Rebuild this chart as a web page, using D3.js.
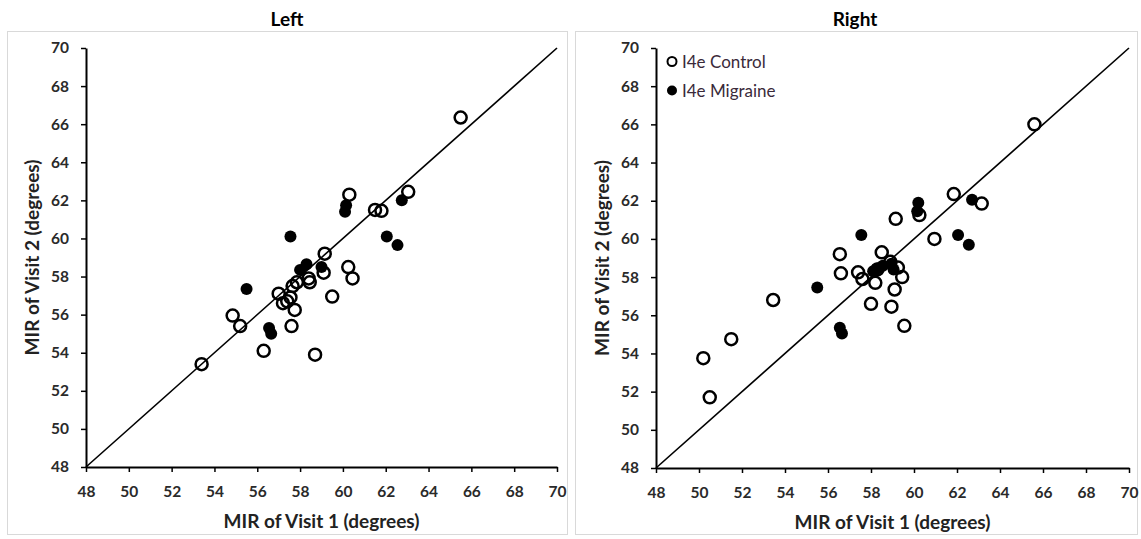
<!DOCTYPE html>
<html><head><meta charset="utf-8">
<script src="https://cdn.jsdelivr.net/npm/d3@7"></script>
<style>
body{margin:0;background:#fff;}
svg{display:block;font-family:Lato,"Open Sans",sans-serif;}
</style></head><body>
<svg id="c" width="1141" height="539"></svg>
<script>
const panelTitles = ["Left", "Right"];
const xTicks = [48,50,52,54,56,58,60,62,64,66,68,70];
const yTicks = [48,50,52,54,56,58,60,62,64,66,68,70];
const legendLabels = ["I4e Control", "I4e Migraine"];
const xLabel = "MIR of Visit 1 (degrees)";
const yLabel = "MIR of Visit 2 (degrees)";

// Left panel
const leftControlV1 = [65.5,63.05,60.3,61.5,61.8,59.15,59.1,60.25,60.45,59.5,58.7,56.3,54.85,55.2,53.4,57.6,57.0,57.2,57.4,57.55,57.75,57.65,57.85,58.45,58.4];
const leftControlV2 = [66.35,62.45,62.3,61.5,61.45,59.2,58.2,58.5,57.9,56.95,53.9,54.1,55.95,55.4,53.4,55.4,57.1,56.6,56.7,56.9,56.25,57.5,57.7,57.7,57.9];
const leftMigraineV1 = [62.75,60.15,60.1,57.55,62.05,62.55,59.0,58.3,58.0,55.5,56.55,56.65];
const leftMigraineV2 = [62.0,61.75,61.4,60.1,60.1,59.65,58.5,58.65,58.35,57.35,55.3,55.0];

// Right panel
const rightControlV1 = [65.6,61.85,63.15,60.25,59.15,60.95,56.55,58.5,56.6,57.4,57.6,58.2,58.0,58.95,59.1,59.45,59.25,59.55,50.2,50.5,51.5,53.45,58.9,58.3];
const rightControlV2 = [66.0,62.35,61.85,61.25,61.05,60.0,59.2,59.3,58.2,58.25,57.9,57.7,56.6,56.45,57.35,58.0,58.5,55.45,53.75,51.7,54.75,56.8,58.8,58.4];
const rightMigraineV1 = [62.7,60.2,60.15,57.55,62.05,62.55,55.5,56.55,56.65,58.1,58.3,58.55,58.95,59.05];
const rightMigraineV2 = [62.05,61.9,61.45,60.2,60.2,59.7,57.45,55.35,55.05,58.3,58.45,58.6,58.7,58.4];

const panels = [
  {title: panelTitles[0], frame:[7,31,560,503], x0:86, x1:557, y0:467, y1:48, tcx:287,
   c1:leftControlV1, c2:leftControlV2, m1:leftMigraineV1, m2:leftMigraineV2, legend:false},
  {title: panelTitles[1], frame:[575,31,562,503], x0:656, x1:1129, y0:468, y1:48, tcx:855,
   c1:rightControlV1, c2:rightControlV2, m1:rightMigraineV1, m2:rightMigraineV2, legend:true}
];

const svg = d3.select("#c");

panels.forEach(p => {
  const g = svg.append("g");
  g.append("rect").attr("x",p.frame[0]+0.5).attr("y",p.frame[1]+0.5)
    .attr("width",p.frame[2]).attr("height",p.frame[3])
    .attr("fill","none").attr("stroke","#d9d9d9").attr("stroke-width",1);
  g.append("text").attr("x",p.tcx).attr("y",26).attr("text-anchor","middle")
    .attr("font-size",19).attr("font-weight","bold").attr("fill","#000").text(p.title);

  const x = d3.scaleLinear().domain([48,70]).range([p.x0,p.x1]);
  const y = d3.scaleLinear().domain([48,70]).range([p.y0,p.y1]);

  const xa = g.append("g").attr("transform",`translate(0,${p.y0})`)
    .call(d3.axisBottom(x).tickValues(xTicks).tickSize(5).tickPadding(14).tickSizeOuter(0));
  const ya = g.append("g").attr("transform",`translate(${p.x0},0)`)
    .call(d3.axisLeft(y).tickValues(yTicks).tickSize(5).tickPadding(12).tickSizeOuter(0));
  [xa,ya].forEach(a=>{
    a.select(".domain").attr("stroke","#000").attr("stroke-width",2);
    a.selectAll(".tick line").attr("stroke","#000").attr("stroke-width",1.5);
    a.selectAll(".tick text").attr("font-size",15.5).attr("font-weight","bold")
      .attr("fill","#2a2a2a").attr("font-family","Lato,'Open Sans',sans-serif");
  });

  g.append("text").attr("x",(p.x0+p.x1)/2).attr("y",p.y0+61).attr("text-anchor","middle")
    .attr("font-size",19).attr("font-weight","bold").attr("fill","#222").text(xLabel);
  g.append("text").attr("transform",`translate(${p.x0-47},${(p.y0+p.y1)/2}) rotate(-90)`)
    .attr("text-anchor","middle").attr("font-size",19).attr("font-weight","bold")
    .attr("fill","#222").text(yLabel);

  // identity line
  g.append("line").attr("x1",x(48)).attr("y1",y(48)).attr("x2",x(70)).attr("y2",y(70))
    .attr("stroke","#000").attr("stroke-width",1.6);

  const ctrl = p.c1.map((v,i)=>[v,p.c2[i]]);
  const mig = p.m1.map((v,i)=>[v,p.m2[i]]);
  g.selectAll(".ctrl").data(ctrl).enter().append("circle")
    .attr("cx",d=>x(d[0])).attr("cy",d=>y(d[1])).attr("r",6)
    .attr("fill","none").attr("stroke","#000").attr("stroke-width",2.5);
  g.selectAll(".mig").data(mig).enter().append("circle")
    .attr("cx",d=>x(d[0])).attr("cy",d=>y(d[1])).attr("r",6)
    .attr("fill","#000");

  if (p.legend) {
    const lx = p.x0 + 16, ly = [61.5, 90.5];
    g.append("circle").attr("cx",lx).attr("cy",ly[0]).attr("r",4.5)
      .attr("fill","none").attr("stroke","#000").attr("stroke-width",2);
    g.append("circle").attr("cx",lx).attr("cy",ly[1]).attr("r",5).attr("fill","#000");
    legendLabels.forEach((t,i)=>{
      g.append("text").attr("x",lx+10).attr("y",ly[i]+6).attr("font-size",17)
        .attr("fill","#3a2a3a").attr("font-family","Lato,'Open Sans',sans-serif").text(t);
    });
  }
});
</script>
</body></html>
